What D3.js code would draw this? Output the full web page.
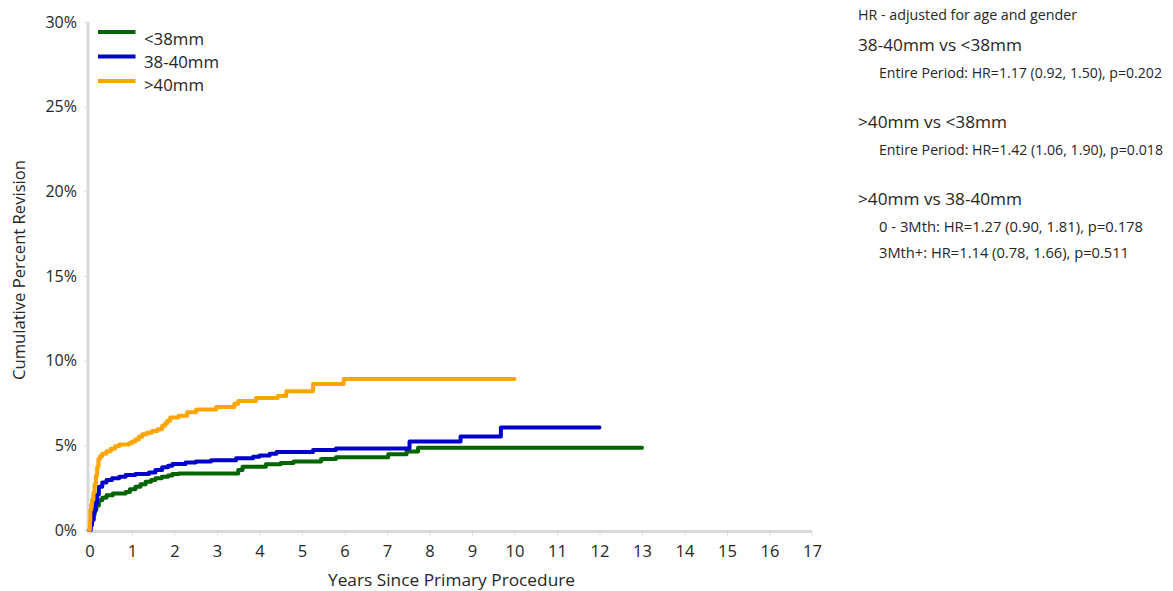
<!DOCTYPE html>
<html><head><meta charset="utf-8">
<script src="https://cdn.jsdelivr.net/npm/d3@7"></script>
<style>
html,body{margin:0;padding:0;background:#fff;}
svg{display:block;font-family:"Open Sans","Noto Sans",sans-serif;}
</style></head>
<body><svg id="chart" width="1173" height="591"></svg>
<script>
// ---- data ----
const seriesNames = ["<38mm", "38-40mm", ">40mm"];
const seriesColors = ["#006400", "#0000cd", "#ffa500"];

const greenT = [0, 0.02, 0.05, 0.08, 0.12, 0.16, 0.22, 0.3, 0.4, 0.55, 0.85, 0.95, 1.08, 1.2, 1.32, 1.45, 1.55, 1.7, 1.85, 1.95, 2.1, 3.5, 3.6, 4.15, 4.5, 4.8, 5.45, 5.8, 7.03, 7.46, 7.73, 13.0];
const greenP = [0, 0.3, 0.6, 0.9, 1.2, 1.45, 1.75, 1.9, 2.05, 2.15, 2.25, 2.4, 2.55, 2.7, 2.85, 2.95, 3.05, 3.15, 3.22, 3.3, 3.33, 3.55, 3.74, 3.88, 3.95, 4.04, 4.2, 4.3, 4.47, 4.63, 4.85, 4.85];

const blueT = [0, 0.03, 0.06, 0.1, 0.14, 0.18, 0.22, 0.3, 0.4, 0.53, 0.7, 0.85, 1.08, 1.4, 1.55, 1.71, 1.85, 1.95, 2.26, 2.5, 2.86, 3.45, 3.85, 4.0, 4.24, 4.4, 5.26, 5.8, 7.53, 8.73, 9.68, 12.0];
const blueP = [0, 0.3, 0.6, 1.1, 1.6, 2.1, 2.55, 2.8, 2.95, 3.05, 3.15, 3.25, 3.3, 3.4, 3.55, 3.7, 3.8, 3.9, 3.98, 4.04, 4.12, 4.24, 4.32, 4.4, 4.5, 4.6, 4.72, 4.82, 5.22, 5.52, 6.05, 6.05];

const orangeT = [0, 0.01, 0.02, 0.04, 0.06, 0.09, 0.12, 0.15, 0.18, 0.21, 0.25, 0.3, 0.4, 0.5, 0.6, 0.7, 0.93, 1.0, 1.08, 1.16, 1.24, 1.35, 1.47, 1.6, 1.71, 1.78, 1.83, 1.9, 2.1, 2.3, 2.51, 2.98, 3.41, 3.5, 3.92, 4.43, 4.63, 5.26, 5.98, 10.0];
const orangeP = [0, 0.5, 1.2, 1.5, 1.8, 2.2, 2.7, 3.2, 3.7, 4.2, 4.35, 4.5, 4.65, 4.8, 4.95, 5.05, 5.12, 5.22, 5.35, 5.5, 5.65, 5.75, 5.85, 5.95, 6.15, 6.3, 6.45, 6.65, 6.75, 6.95, 7.12, 7.27, 7.45, 7.62, 7.8, 7.92, 8.2, 8.62, 8.92, 8.92];

const xTicks = d3.range(0, 18);
const yTicks = [0, 5, 10, 15, 20, 25, 30];
const xTitle = "Years Since Primary Procedure";
const yTitle = "Cumulative Percent Revision";

const hrHeader = "HR - adjusted for age and gender";
const hrGroups = [
  { title: "38-40mm vs <38mm", lines: ["Entire Period: HR=1.17 (0.92, 1.50), p=0.202"] },
  { title: ">40mm vs <38mm", lines: ["Entire Period: HR=1.42 (1.06, 1.90), p=0.018"] },
  { title: ">40mm vs 38-40mm", lines: ["0 - 3Mth: HR=1.27 (0.90, 1.81), p=0.178", "3Mth+: HR=1.14 (0.78, 1.66), p=0.511"] }
];

// ---- chart ----
const svg = d3.select("#chart");
const x = d3.scaleLinear().domain([0, 17]).range([89.5, 812]);
const y = d3.scaleLinear().domain([0, 30]).range([530, 22]);
const axisColor = "#d9d9d9";
const textColor = "#262626";

// fit text width (keeps real text, only adjusts spacing)
function fit(sel, w) {
  sel.attr("textLength", w).attr("lengthAdjust", "spacingAndGlyphs");
  return sel;
}

// axes
const gx = svg.append("g").attr("transform", `translate(0,${y(0) + 1.5})`)
  .call(d3.axisBottom(x).tickValues(xTicks).tickSize(4).tickPadding(10).tickFormat(d3.format("d")));
gx.select(".domain").attr("stroke", axisColor).attr("stroke-width", 3).attr("d", `M${x(0)-3},0H${x(17)}`);
gx.selectAll(".tick line").attr("stroke", axisColor).attr("y1", 1.5);
gx.selectAll(".tick text").attr("fill", textColor).style("font-size", "16.5px").style("font-family", "'Open Sans',sans-serif");

const gy = svg.append("g").attr("transform", `translate(${x(0) - 1.5},0)`)
  .call(d3.axisLeft(y).tickValues(yTicks).tickSize(4).tickPadding(7).tickFormat(d => d + "%"));
gy.select(".domain").attr("stroke", axisColor).attr("stroke-width", 3).attr("d", `M0,${y(30)}V${y(0)+3}`);
gy.selectAll(".tick line").attr("stroke", axisColor).attr("x1", -1.5);
gy.selectAll(".tick text").attr("fill", textColor).style("font-size", "16px").style("font-family", "'Open Sans',sans-serif");

// titles
fit(svg.append("text").attr("x", 328).attr("y", 586)
  .attr("fill", textColor).style("font-size", "17px").text(xTitle), 247);
fit(svg.append("text").attr("transform", `translate(25,380) rotate(-90)`)
  .attr("fill", textColor).style("font-size", "17px").text(yTitle), 220);

// lines
const series = [
  { t: greenT, p: greenP },
  { t: blueT, p: blueP },
  { t: orangeT, p: orangeP }
];
const line = d3.line().x(d => x(d[0])).y(d => y(d[1])).curve(d3.curveStepAfter);
series.forEach((s, i) => {
  const pts = s.t.map((t, j) => [t, s.p[j]]);
  svg.append("path").datum(pts).attr("d", line)
    .attr("fill", "none").attr("stroke", seriesColors[i]).attr("stroke-width", 4)
    .attr("stroke-linejoin", "round").attr("stroke-linecap", "round");
});

// legend
const legendY = [32, 56.5, 81];
const legendTextY = [44.5, 67.5, 91];
const legendW = [60, 75, 60];
seriesNames.forEach((n, i) => {
  svg.append("line").attr("x1", 98).attr("x2", 135.5).attr("y1", legendY[i]).attr("y2", legendY[i])
    .attr("stroke", seriesColors[i]).attr("stroke-width", 4);
  fit(svg.append("text").attr("x", 144).attr("y", legendTextY[i]).attr("fill", textColor)
    .style("font-size", "17px").text(n), legendW[i]);
});

// HR panel
fit(svg.append("text").attr("x", 858).attr("y", 20).attr("fill", textColor).style("font-size", "14px").text(hrHeader), 219);
const titleY = [51, 128, 205];
const titleW = [164, 149, 164];
const lineY = [[78], [155], [232, 258]];
const lineW = [[283], [284], [264, 250]];
hrGroups.forEach((g, i) => {
  fit(svg.append("text").attr("x", 858).attr("y", titleY[i]).attr("fill", textColor).style("font-size", "17px").text(g.title), titleW[i]);
  g.lines.forEach((l, j) => {
    fit(svg.append("text").attr("x", 879).attr("y", lineY[i][j]).attr("fill", textColor).style("font-size", "14px").text(l), lineW[i][j]);
  });
});
</script></body></html>
